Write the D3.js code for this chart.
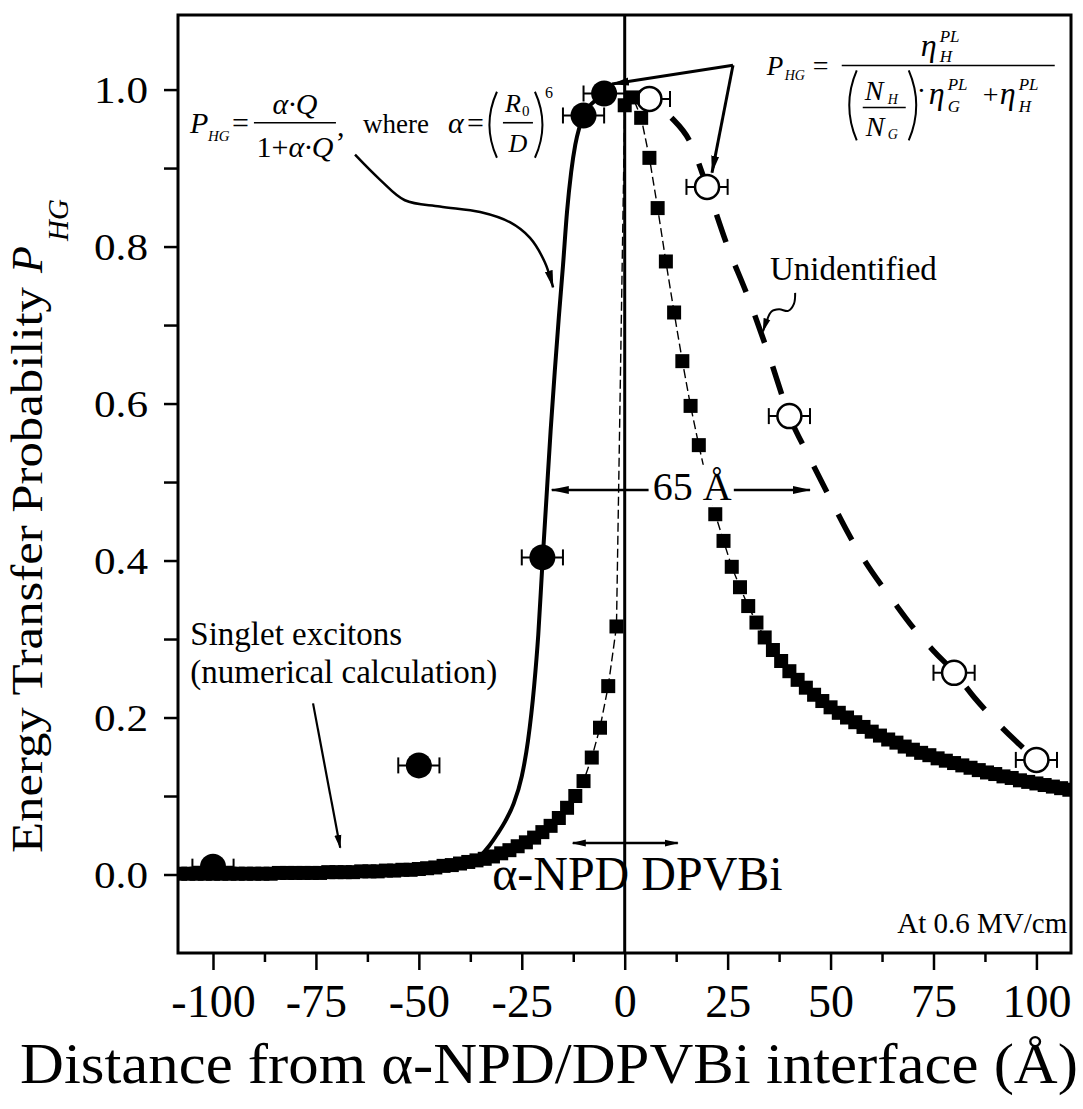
<!DOCTYPE html>
<html><head><meta charset="utf-8">
<script src="https://cdn.jsdelivr.net/npm/d3@7"></script>
<style>body{margin:0;background:#fff} svg{display:block}</style>
</head><body>
<svg id="c" width="1083" height="1109"></svg>
<script>
// ---------- data ----------
const xTicks = [-100, -75, -50, -25, 0, 25, 50, 75, 100];
const xMinorTicks = [-87.5, -62.5, -37.5, -12.5, 12.5, 37.5, 62.5, 87.5];
const yTicks = [0.0, 0.2, 0.4, 0.6, 0.8, 1.0];
const yMinorTicks = [0.1, 0.3, 0.5, 0.7, 0.9];

// measured P_HG on the alpha-NPD side (filled circles)
const filledX = [-100, -50, -20, -10, -5];
const filledY = [0.010, 0.139, 0.404, 0.967, 0.995];
// measured P_HG on the DPVBi side (open circles)
const openX = [6, 20, 40, 80, 100];
const openY = [0.988, 0.876, 0.584, 0.257, 0.146];
const errHalf = 5;

// numerical calculation (filled squares)
const squareX = [-108,-106,-104,-102,-100,-98,-96,-94,-92,-90,-88,-86,-84,-82,-80,-78,-76,-74,-72,-70,
  -68,-66,-64,-62,-60,-58,-56,-54,-52,-50,-48,-46,-44,-42,-40,-38,-36,-34,-32,-30,-28,-26,-24,-22,-20,
  -18,-16,-14,-12,-10,-8,-6,-4,-2,
  0,2,4,6,8,10,12,14,16,18,20,22,24,26,28,30,32,34,36,38,40,42,44,46,48,50,52,54,56,58,60,62,64,66,68,
  70,72,74,76,78,80,82,84,86,88,90,92,94,96,98,100,102,104,106,108];
const squareY = [0.001,0.001,0.001,0.001,0.001,0.001,0.001,0.001,0.001,0.001,0.001,0.001,0.002,0.002,0.002,0.002,0.002,0.002,0.003,0.003,
  0.003,0.003,0.004,0.004,0.004,0.005,0.005,0.006,0.006,0.007,0.008,0.009,0.011,0.012,0.014,0.016,0.018,0.020,0.023,0.027,0.031,0.036,0.041,0.047,0.054,
  0.062,0.072,0.085,0.100,0.119,0.149,0.187,0.240,0.316,
  0.980,0.990,0.964,0.913,0.849,0.781,0.716,0.654,0.597,0.547,0.500,0.459,0.425,0.392,0.366,0.342,0.321,0.302,0.286,0.272,0.259,0.248,0.238,0.229,0.221,0.213,0.206,0.200,0.194,0.188,0.182,0.177,0.172,0.168,0.163,
  0.159,0.155,0.152,0.148,0.145,0.142,0.139,0.136,0.133,0.130,0.128,0.125,0.123,0.120,0.118,0.116,0.114,0.112,0.110,0.108];

// Foerster model curve (solid line)
const fitX = [-108,-90,-75,-60,-50,-45,-40,-37,-35,-33,-31,-29,-27,-25,-23.5,-22,-21,-20,-19,-18,-17,-16,-15,-14,-13,-12,-11,-10,-8,-6];
const fitY = [0.000,0.001,0.001,0.002,0.004,0.006,0.010,0.016,0.024,0.036,0.051,0.068,0.090,0.125,0.170,0.240,0.305,0.395,0.480,0.565,0.640,0.710,0.775,0.845,0.895,0.930,0.952,0.968,0.982,0.990];

// "Unidentified" guide (thick dashed line)
const unidX = [6,11,16,20,25,30,35,40,45,50,55,60,65,70,75,80,85,90,95,100];
const unidY = [0.988,0.966,0.932,0.876,0.800,0.735,0.662,0.584,0.530,0.478,0.428,0.386,0.350,0.315,0.285,0.258,0.225,0.196,0.170,0.146];

// ---------- setup ----------
const FONT = "'Liberation Serif','Times New Roman',Times,serif";
const svg = d3.select("#c");
const L = 178, R = 1071, T0 = 15, B = 953;
const x = d3.scaleLinear().domain([-108.5, 108.4]).range([L, R]);
const y = d3.scaleLinear().domain([-0.1, 1.095]).range([B, T0]);

svg.append("rect").attr("width",1083).attr("height",1109).attr("fill","#fff");
const defs = svg.append("defs");
defs.append("clipPath").attr("id","clip").append("rect")
  .attr("x",L).attr("y",T0).attr("width",R-L).attr("height",B-T0);
defs.append("marker").attr("id","ah").attr("viewBox","0 0 18 10").attr("refX",17).attr("refY",5)
  .attr("markerWidth",18).attr("markerHeight",10).attr("markerUnits","userSpaceOnUse")
  .attr("orient","auto-start-reverse")
  .append("path").attr("d","M0,1 L18,5 L0,9 Z").attr("fill","#000");
defs.append("marker").attr("id","ahs").attr("viewBox","0 0 14 8").attr("refX",13).attr("refY",4)
  .attr("markerWidth",14).attr("markerHeight",8).attr("markerUnits","userSpaceOnUse")
  .attr("orient","auto-start-reverse")
  .append("path").attr("d","M0,0.5 L14,4 L0,7.5 Z").attr("fill","#000");

const plot = svg.append("g").attr("clip-path","url(#clip)");

// vertical interface line at x = 0
plot.append("line").attr("x1",x(0)).attr("x2",x(0)).attr("y1",T0).attr("y2",B)
  .attr("stroke","#000").attr("stroke-width",3);

// Foerster fit
const fitData = fitX.map((d,i)=>[d, fitY[i]]);
plot.append("path").datum(fitData)
  .attr("d", d3.line().x(d=>x(d[0])).y(d=>y(d[1])).curve(d3.curveMonotoneX))
  .attr("fill","none").attr("stroke","#000").attr("stroke-width",4);

// Unidentified dashed curve
const unidData = unidX.map((d,i)=>[d, unidY[i]]);
plot.append("path").datum(unidData)
  .attr("d", d3.line().x(d=>x(d[0])).y(d=>y(d[1])).curve(d3.curveMonotoneX))
  .attr("fill","none").attr("stroke","#000").attr("stroke-width",5.5)
  .attr("stroke-dasharray","29,25").attr("stroke-dashoffset",25);

// error bars + circles
function errBars(xs, ys){
  const g = plot.append("g");
  xs.forEach((d,i)=>{
    const cy = y(ys[i]), x1 = x(d-errHalf), x2 = x(d+errHalf);
    g.append("line").attr("x1",x1).attr("x2",x2).attr("y1",cy).attr("y2",cy).attr("stroke","#000").attr("stroke-width",2);
    [x1,x2].forEach(xx=>g.append("line").attr("x1",xx).attr("x2",xx).attr("y1",cy-8).attr("y2",cy+8)
      .attr("stroke","#000").attr("stroke-width",2));
  });
}
errBars(filledX, filledY);
errBars(openX, openY);
plot.append("g").selectAll("circle").data(filledX).join("circle")
  .attr("cx",d=>x(d)).attr("cy",(d,i)=>y(filledY[i])).attr("r",13).attr("fill","#000");
plot.append("g").selectAll("circle").data(openX).join("circle")
  .attr("cx",d=>x(d)).attr("cy",(d,i)=>y(openY[i])).attr("r",12).attr("fill","#fff")
  .attr("stroke","#000").attr("stroke-width",2.5);

// numerical calculation: thin dashed connector + squares
const sqData = squareX.map((d,i)=>[d, squareY[i]]);
plot.append("path").datum(sqData)
  .attr("d", d3.line().x(d=>x(d[0])).y(d=>y(d[1])))
  .attr("fill","none").attr("stroke","#000").attr("stroke-width",1.4).attr("stroke-dasharray","9,4");
const SQ = 14;
plot.append("g").selectAll("rect").data(sqData).join("rect")
  .attr("x",d=>x(d[0])-SQ/2).attr("y",d=>y(d[1])-SQ/2).attr("width",SQ).attr("height",SQ).attr("fill","#000");

// ---------- annotations ----------
const ann = svg.append("g").attr("font-family",FONT).attr("fill","#000");
function T(px, py, parts, size, anchor){
  const t = ann.append("text").attr("x",px).attr("y",py).attr("font-size",size||30)
    .attr("text-anchor",anchor||"start");
  (typeof parts === "string" ? [[parts,0]] : parts).forEach(p=>{
    const s = t.append("tspan").text(p[0]); if(p[1]) s.attr("font-style","italic");
  });
  return t;
}
function seg(x1,y1,x2,y2,w){ ann.append("line").attr("x1",x1).attr("y1",y1).attr("x2",x2).attr("y2",y2).attr("stroke","#000").attr("stroke-width",w||1.5); }
function paren(px,top,bot,dir){ // dir -1 left "(", +1 right ")"
  const mid=(top+bot)/2;
  ann.append("path").attr("d",`M${px},${top} Q${px+dir*15},${mid} ${px},${bot}`)
    .attr("fill","none").attr("stroke","#000").attr("stroke-width",2);
}
function arrow(pts, w, curve, mk){
  ann.append("path").attr("d", d3.line().curve(curve||d3.curveLinear)(pts.map(p=>[x(p[0]),y(p[1])])))
    .attr("fill","none").attr("stroke","#000").attr("stroke-width",w).attr("marker-end",`url(#${mk||"ah"})`);
}

// left formula: anchor from scales
const ax = x(-105.6), ay = y(0.945);
const LF = (px,py)=>[ax+(px-190), ay+(py-133)];
T(...LF(190,133),[["P",1]],30);
T(...LF(208,141),[["HG",1]],15);
T(...LF(232,133),"=",30);
T(...LF(295,114),[["α·Q",1]],30,"middle");
seg(...LF(254,123),...LF(336,123),1.6);
T(...LF(295,157),[["1+",0],["α·Q",1]],30,"middle");
T(...LF(337,136),",",30);
T(...LF(363,133),"where",27);
T(...LF(448,133),[["α",1]],30);
T(...LF(467,133),"=",30);
{ const a=LF(497,92), b=LF(497,158); paren(a[0],a[1],b[1],-1); }
{ const a=LF(535,92), b=LF(535,158); paren(a[0],a[1],b[1],1); }
T(...LF(505,112),[["R",1]],26);
T(...LF(522,116),"0",15);
seg(...LF(503,123),...LF(533,123),1.6);
T(...LF(518,152),[["D",1]],26,"middle");
T(...LF(545,98),"6",16);

// right formula
const bx = x(34.5), by = y(1.018);
const RF = (px,py)=>[bx+(px-767), by+(py-75)];
T(...RF(767,75),[["P",1]],27);
T(...RF(785,80),[["HG",1]],14);
T(...RF(813,75),"=",28);
seg(...RF(842,65),...RF(1055,65),1.6);
T(...RF(921,56),[["η",1]],32);
T(...RF(940,42),[["PL",1]],17);
T(...RF(940,62),[["H",1]],17);
{ const a=RF(857,70), b=RF(857,140); paren(a[0],a[1],b[1],-1); }
{ const a=RF(909,70), b=RF(909,140); paren(a[0],a[1],b[1],1); }
T(...RF(865,100),[["N",1]],28);
T(...RF(888,104),[["H",1]],14);
seg(...RF(863,107),...RF(906,107),1.4);
T(...RF(866,136),[["N",1]],28);
T(...RF(888,139),[["G",1]],14);
T(...RF(917,100),"·",28);
T(...RF(929,104),[["η",1]],32);
T(...RF(948,90),[["PL",1]],17);
T(...RF(948,112),[["G",1]],17);
T(...RF(983,104),"+",28);
T(...RF(1000,104),[["η",1]],32);
T(...RF(1019,90),[["PL",1]],17);
T(...RF(1019,112),[["H",1]],17);

// arrows from right formula
arrow([[26.3,1.031],[-3.1,1.007]],3);
arrow([[26.3,1.031],[21.2,0.894]],3);

// curvy arrow from left formula to fit
arrow([[-65.5,0.917],[-59.4,0.885],[-53.4,0.859],[-44.9,0.851],[-35.1,0.844],[-27.9,0.831],[-23.0,0.811],[-19.4,0.780],[-17.4,0.748]],2.5,d3.curveCatmullRom);

// Unidentified
T(x(35.3), y(0.757), "Unidentified", 33);
arrow([[41.4,0.741],[41.1,0.727],[39.7,0.718],[37.5,0.720],[35.6,0.717],[34.4,0.704],[33.6,0.692]],2,d3.curveCatmullRom,"ahs");

// 65 Å
ann.append("rect").attr("x",x(6.0)).attr("y",y(0.522)).attr("width",x(26.6)-x(6.0)).attr("height",y(0.470)-y(0.522)).attr("fill","#fff");
arrow([[5.8,0.490],[-17.7,0.490]],2.5);
arrow([[26.5,0.490],[45.0,0.490]],2.5);
T(x(6.8), y(0.477), "65 Å", 40);

// Singlet excitons
T(x(-105.5), y(0.292), "Singlet excitons", 33);
T(x(-105.5), y(0.244), "(numerical calculation)", 33);
arrow([[-75.7,0.218],[-69.1,0.034]],2.2,null,"ahs");

// alpha-NPD / DPVBi region arrow + label
ann.append("line").attr("x1",x(-12.6)).attr("x2",x(12.9)).attr("y1",y(0.040)).attr("y2",y(0.040))
  .attr("stroke","#000").attr("stroke-width",2.5)
  .attr("marker-start","url(#ahs)").attr("marker-end","url(#ahs)");
T(x(-32.2), y(-0.020), "α-NPD DPVBi", 48);
T(x(107.5), y(-0.0745), "At 0.6 MV/cm", 29, "end");

// ---------- frame & axes ----------
svg.append("rect").attr("x",L).attr("y",T0).attr("width",R-L).attr("height",B-T0)
  .attr("fill","none").attr("stroke","#000").attr("stroke-width",3);

const gx = svg.append("g").attr("transform",`translate(0,${B})`)
  .call(d3.axisBottom(x).tickValues(xTicks).tickSize(17).tickFormat(d=>String(d)));
gx.select(".domain").remove();
gx.selectAll(".tick line").attr("stroke","#000").attr("stroke-width",2.5);
gx.selectAll(".tick text").attr("font-family",FONT).attr("font-size",46).attr("fill","#000")
  .attr("dy",null).attr("y",64);
const gxm = svg.append("g").attr("transform",`translate(0,${B})`)
  .call(d3.axisBottom(x).tickValues(xMinorTicks).tickSize(9).tickFormat(""));
gxm.select(".domain").remove();
gxm.selectAll(".tick line").attr("stroke","#000").attr("stroke-width",2.5);

const gy = svg.append("g").attr("transform",`translate(${L},0)`)
  .call(d3.axisLeft(y).tickValues(yTicks).tickSize(14).tickFormat(d3.format(".1f")));
gy.select(".domain").remove();
gy.selectAll(".tick line").attr("stroke","#000").attr("stroke-width",2.5);
gy.selectAll(".tick text").attr("font-family",FONT).attr("font-size",38).attr("fill","#000")
  .attr("x",-30).attr("dy","0.35em").attr("textLength",54).attr("lengthAdjust","spacingAndGlyphs");
const gym = svg.append("g").attr("transform",`translate(${L},0)`)
  .call(d3.axisLeft(y).tickValues(yMinorTicks).tickSize(14).tickFormat(""));
gym.select(".domain").remove();
gym.selectAll(".tick line").attr("stroke","#000").attr("stroke-width",2.5);

// axis titles
svg.append("text").attr("x",20).attr("y",1083).attr("font-family",FONT).attr("font-size",56)
  .attr("textLength",1058).attr("lengthAdjust","spacingAndGlyphs")
  .text("Distance from α-NPD/DPVBi interface (Å)");
const gt = svg.append("g").attr("transform","translate(42,853) rotate(-90)").attr("font-family",FONT);
gt.append("text").attr("x",0).attr("y",0).attr("font-size",44)
  .attr("textLength",566).attr("lengthAdjust","spacingAndGlyphs").text("Energy Transfer Probability");
gt.append("text").attr("x",580).attr("y",0).attr("font-size",44).attr("font-style","italic").text("P");
gt.append("text").attr("x",612).attr("y",26).attr("font-size",29).attr("font-style","italic").text("HG");
</script>
</body></html>
